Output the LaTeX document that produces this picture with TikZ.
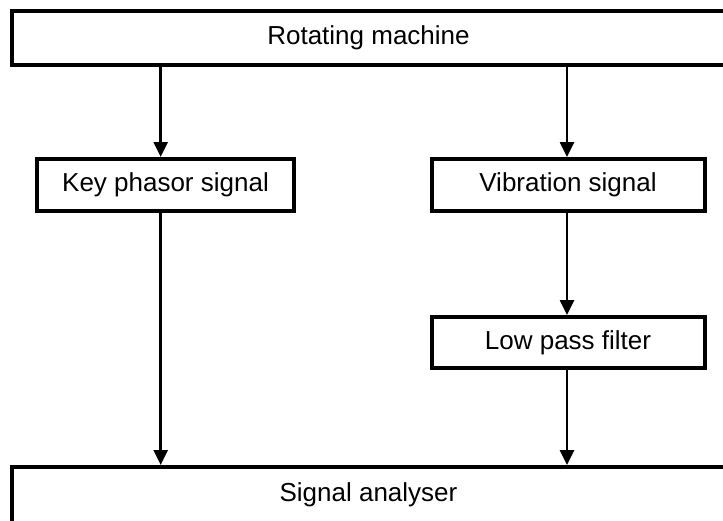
\documentclass[tikz,border=0pt]{standalone}
\usepackage{fontspec}
\setmainfont{Liberation Sans}
\usetikzlibrary{arrows.meta}
\begin{document}
\begin{tikzpicture}[x=1pt,y=-1pt,
  blockbox/.style={draw=black,line width=4pt,fill=white,inner sep=0pt,
    font=\fontsize{26}{31}\selectfont},
  flow/.style={line width=2.6pt,-{Triangle[length=15pt,width=14pt]}}]
\useasboundingbox (0,0) rectangle (723,520);
% blocks
\node[blockbox,minimum width=713pt,minimum height=54pt] (rm) at (368.5,38) {Rotating machine};
\node[blockbox,minimum width=257pt,minimum height=52pt] (kp) at (165.5,185) {Key phasor signal};
\node[blockbox,minimum width=273pt,minimum height=52pt] (vs) at (568,185) {Vibration signal};
\node[blockbox,minimum width=273pt,minimum height=51pt] (lp) at (568,342.5) {Low pass filter};
\node[blockbox,minimum width=713pt,minimum height=56pt] (sa) at (368.5,495) {Signal analyser};
% connector columns
\coordinate (xl) at (160.7,0);
\coordinate (xr) at (567,0);
% connectors
\draw[flow] (rm.south -| xl) -- (kp.north -| xl);
\draw[flow] (kp.south -| xl) -- (sa.north -| xl);
\draw[flow] (rm.south -| xr) -- (vs.north -| xr);
\draw[flow] (vs.south -| xr) -- (lp.north -| xr);
\draw[flow] (lp.south -| xr) -- (sa.north -| xr);
\end{tikzpicture}
\end{document}
